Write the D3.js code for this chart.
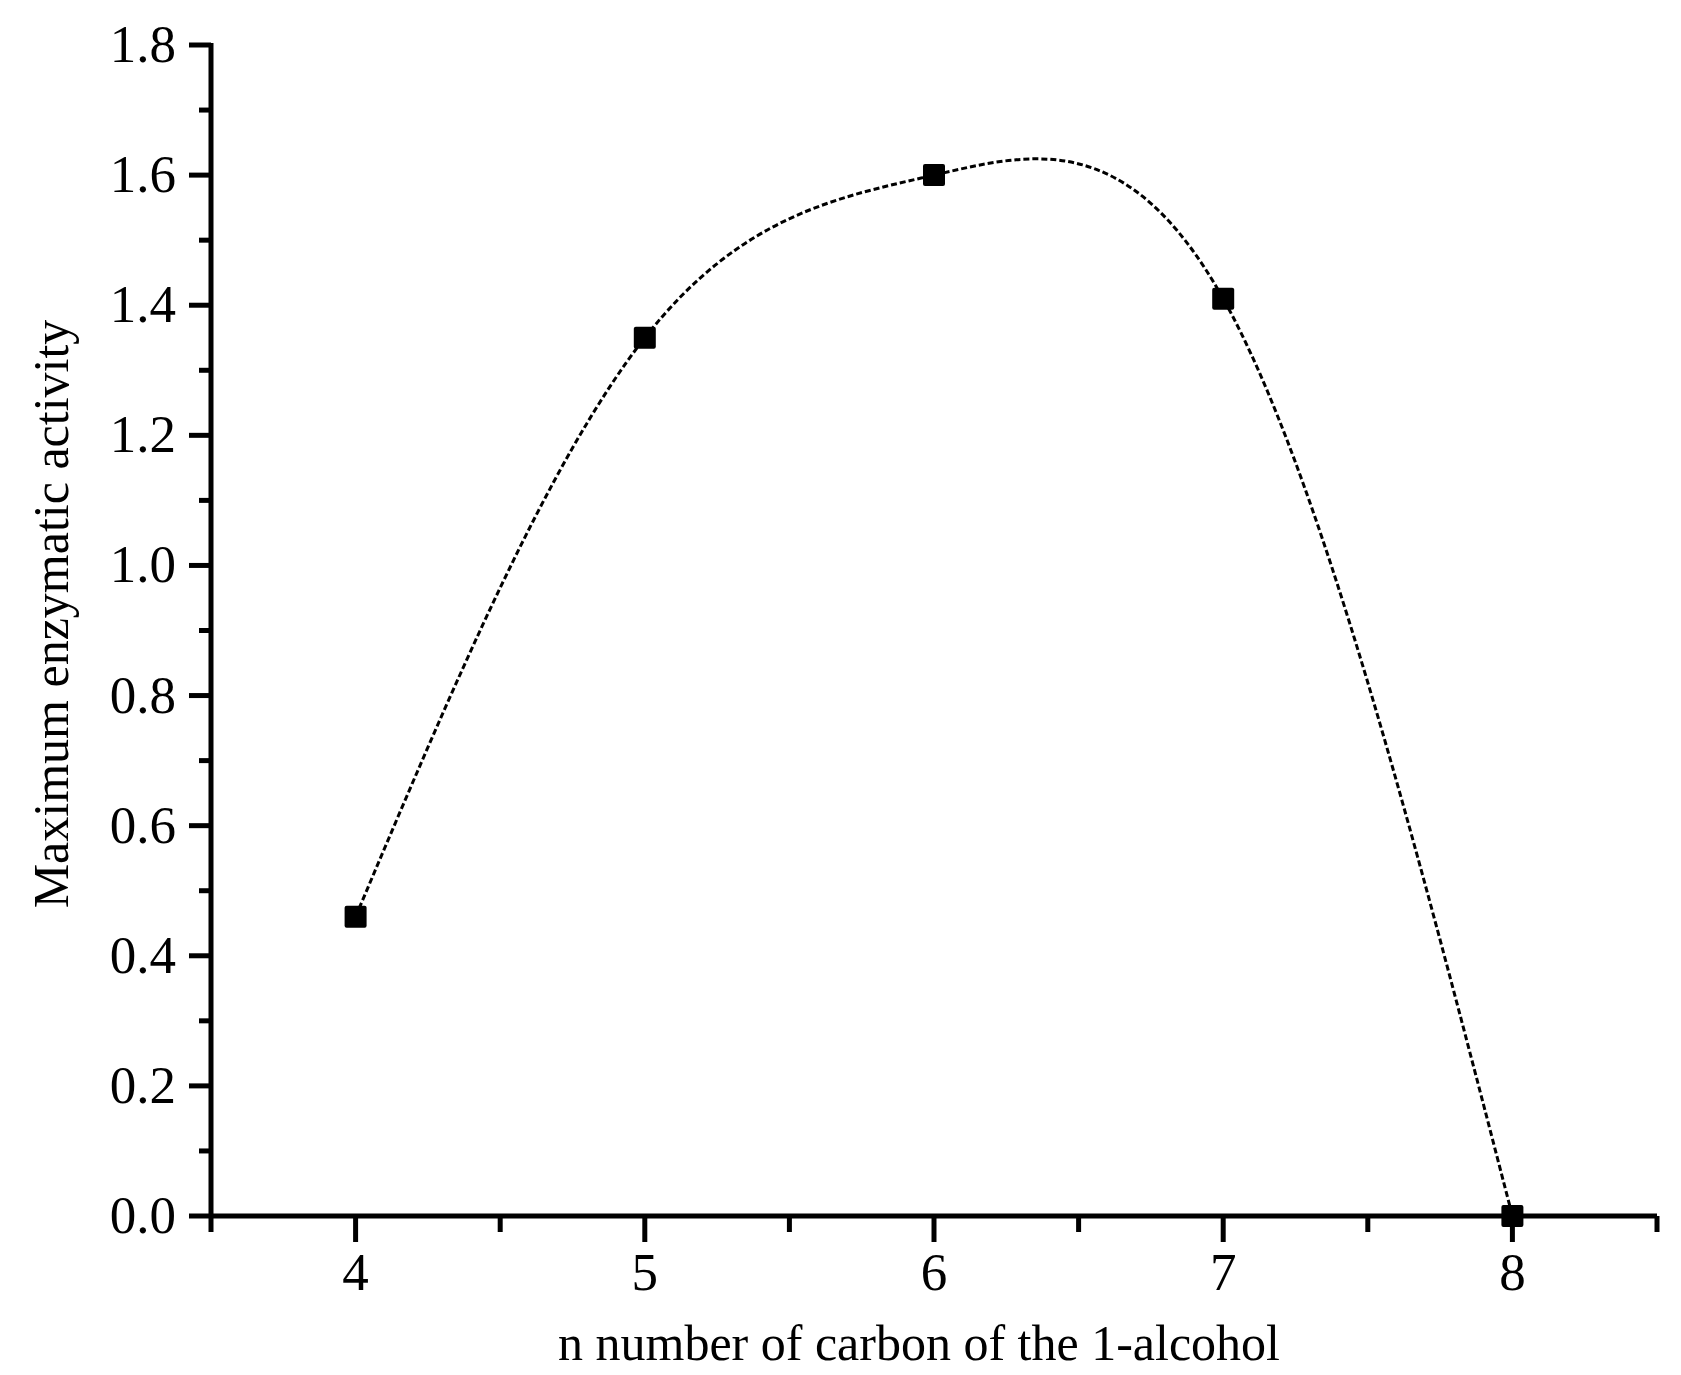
<!DOCTYPE html>
<html><head><meta charset="utf-8">
<script src="https://cdn.jsdelivr.net/npm/d3@7"></script>
<style>body{margin:0;background:#fff}</style></head>
<body><svg id="c" width="1681" height="1375"></svg>
<script>
const carbons=[4,5,6,7,8];
const activity=[0.46,1.35,1.60,1.41,0.0];
const xTicks=[4,5,6,7,8];
const yTicks=[0,0.2,0.4,0.6,0.8,1.0,1.2,1.4,1.6,1.8];
const xTitle="n number of carbon of the 1-alcohol";
const yTitle="Maximum enzymatic activity";
const svg=d3.select("#c");
const font="Liberation Serif, Times New Roman, serif";
const x=d3.scaleLinear().domain([3.5,8.5]).range([211,1657]);
const y=d3.scaleLinear().domain([0,1.8]).range([1216,45]);
const g=svg.append("g");
g.append("line").attr("x1",x(3.5)).attr("x2",x(8.5)).attr("y1",y(0)).attr("y2",y(0)).attr("stroke","#000").attr("stroke-width",5);
g.append("line").attr("x1",x(3.5)).attr("x2",x(3.5)).attr("y1",y(0)+2).attr("y2",y(1.8)-2).attr("stroke","#000").attr("stroke-width",5);
d3.range(3.5,8.51,0.5).forEach(v=>{const maj=xTicks.includes(v);
 g.append("line").attr("x1",x(v)).attr("x2",x(v)).attr("y1",y(0)).attr("y2",y(0)+(maj?26:16)).attr("stroke","#000").attr("stroke-width",5);});
xTicks.forEach(v=>g.append("text").attr("x",x(v)).attr("y",1290).attr("text-anchor","middle").attr("font-family",font).attr("font-size",53).text(v));
d3.range(0,18.1,1).forEach(i=>{const v=i/10;const maj=i%2===0;
 g.append("line").attr("x1",x(3.5)).attr("x2",x(3.5)-(maj?22:12)).attr("y1",y(v)).attr("y2",y(v)).attr("stroke","#000").attr("stroke-width",5);});
yTicks.forEach(v=>g.append("text").attr("x",176).attr("y",y(v)+17).attr("text-anchor","end").attr("font-family",font).attr("font-size",53).text(v.toFixed(1)));
g.append("text").attr("x",(x(3.5)+x(8.5))/2-15).attr("y",1360).attr("text-anchor","middle").attr("font-family",font).attr("font-size",50).text(xTitle);
g.append("text").attr("transform","translate(68,614) rotate(-90)").attr("text-anchor","middle").attr("font-family",font).attr("font-size",50).text(yTitle);
const pts=carbons.map((c,i)=>[c,activity[i]]);
g.append("path").attr("d",d3.line().x(d=>x(d[0])).y(d=>y(d[1])).curve(d3.curveNatural)(pts))
 .attr("fill","none").attr("stroke","#000").attr("stroke-width",3).attr("stroke-dasharray","6,3");
g.selectAll("rect.m").data(pts).enter().append("rect").attr("x",d=>x(d[0])-11).attr("y",d=>y(d[1])-11).attr("width",22).attr("height",22).attr("rx",2).attr("fill","#000");
</script></body></html>
